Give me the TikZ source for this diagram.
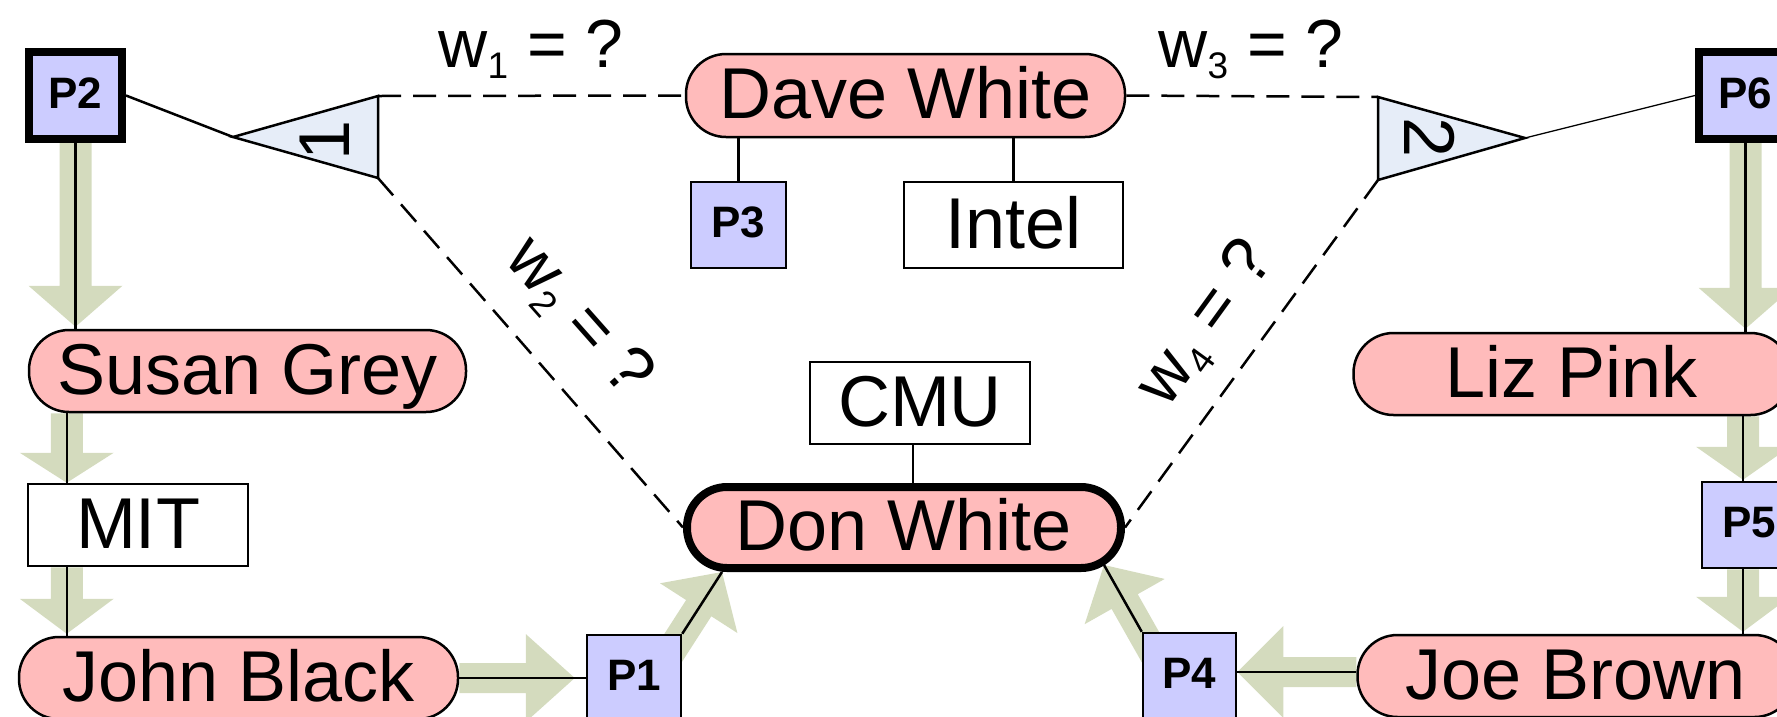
\documentclass[tikz,border=0pt]{standalone}
\usepackage{fontspec}
\setmainfont{Liberation Sans}
\usetikzlibrary{calc}

\definecolor{namefill}{RGB}{255,187,187}
\definecolor{paperfill}{RGB}{204,204,255}
\definecolor{trifill}{RGB}{230,237,248}
\definecolor{flowgreen}{RGB}{212,219,190}

\pgfdeclarelayer{under}
\pgfsetlayers{under,main}

\newcommand\namefont{\fontsize{72pt}{80pt}\selectfont}
\newcommand\tagfont{\fontsize{44pt}{50pt}\selectfont\bfseries}
\newcommand\wfont{\fontsize{68pt}{76pt}\selectfont}
\newcommand\wlab[1]{w\raisebox{-11pt}{\fontsize{37pt}{37pt}\selectfont #1} = ?}

% block arrow: start, tip, head length, head half width, shaft half width
\newcommand\fatarrow[5]{%
  \coordinate (fa-s) at (#1);
  \coordinate (fa-t) at (#2);
  \coordinate (fa-b) at ($(fa-t)!#3!(fa-s)$);
  \fill[flowgreen] ($(fa-s)!#5!90:(fa-t)$) -- ($(fa-b)!#5!90:(fa-t)$)
    -- ($(fa-b)!#4!90:(fa-t)$) -- (fa-t) -- ($(fa-b)!#4!-90:(fa-t)$)
    -- ($(fa-b)!#5!-90:(fa-t)$) -- ($(fa-s)!#5!-90:(fa-t)$) -- cycle;}

\begin{document}
\begin{tikzpicture}[x=1pt,y=-1pt,
  person/.style={draw, line width=2.5pt, fill=namefill, rounded corners=40pt,
    minimum width=437pt, minimum height=82pt, inner sep=0pt,
    text height=52pt, text depth=6pt, font=\namefont},
  org/.style={draw, line width=2.5pt, fill=white,
    minimum width=220pt, minimum height=82pt, inner sep=0pt,
    text height=52pt, text depth=6pt, font=\namefont},
  paper/.style={draw, line width=2.5pt, fill=paperfill,
    minimum width=94pt, minimum height=86pt, inner sep=0pt,
    text height=31pt, text depth=6pt, font=\tagfont},
  focus/.style={line width=8pt},
  conn/.style={line width=2.5pt},
  guess/.style={line width=2.5pt, dash pattern=on 23pt off 12pt},
  tri/.style={draw, line width=2.5pt, fill=trifill, line join=miter},
  wtext/.style={font=\wfont, inner sep=0pt},
  digit/.style={font=\namefont, inner sep=0pt}]

\useasboundingbox (0,0) rectangle (1777,716);
\clip (0,0) rectangle (1777,716);

% people
\node[person, minimum width=439pt, minimum height=83pt] (dave) at (905.5,95.5) {Dave White};
\node[person, focus, minimum width=434pt, minimum height=81pt] (don) at (904,527.5) {Don White};
\node[person] (susan) at (247.5,371) {Susan Grey};
\node[person, minimum width=439pt] (john) at (238.5,678) {John Black};
\node[person] (liz) at (1572,374) {Liz Pink};
\node[person] (joe) at (1576,676) {Joe Brown};

% organisations
\node[org, minimum width=219pt, minimum height=86pt] (intel) at (1013.5,225) {Intel};
\node[org] (cmu) at (920,403) {CMU};
\node[org] (mit) at (138,525) {MIT};

% papers
\node[paper, focus, minimum width=93pt, minimum height=87pt] (p2) at (75.5,95.5) {P2};
\node[paper, focus, minimum width=93pt, minimum height=87pt] (p6) at (1745.5,95.5) {P6};
\node[paper, minimum width=95pt] (p3) at (738.5,225) {P3};
\node[paper] (p1) at (634,678) {P1};
\node[paper, minimum width=93pt] (p4) at (1189.5,676) {P4};
\node[paper] (p5) at (1749,525) {P5};

% comparison triangles
\coordinate (t1a) at (233,137);
\coordinate (t1t) at (378,96);
\coordinate (t1b) at (378,178);
\draw[tri] (t1a) -- (t1t) -- (t1b) -- cycle;
\node[digit, rotate=90] (d1) at (325,140) {1};

\coordinate (t2a) at (1525,138);
\coordinate (t2t) at (1378,97);
\coordinate (t2b) at (1378,180);
\draw[tri] (t2a) -- (t2t) -- (t2b) -- cycle;
\node[digit, rotate=-90] (d2) at (1430,138) {2};

% helper points on node borders
\coordinate (mitx) at ($(mit.north west)+(40,0)$);
\coordinate (rx) at ($(p5.north)+(-6,0)$);
\coordinate (cmux) at ($(cmu.south)+(-7,0)$);
\coordinate (donsw) at ($(don.south west)+(39,0)$);
\coordinate (donse) at ($(don.south east)+(-21,-7)$);
\coordinate (joeln) at ($(joe.west)+(0,-4)$);

% citation flow
\begin{pgfonlayer}{under}
  \clip (0,0) rectangle (1777,716);
  \fatarrow{p2.south}{$(p2.south |- susan.north)+(0,-2)$}{41pt}{47pt}{16pt}
  \fatarrow{mitx |- susan.south}{mitx}{30pt}{47pt}{16pt}
  \fatarrow{mitx |- mit.south}{$(mitx |- john.north)+(0,-2)$}{35pt}{47pt}{16pt}
  \fatarrow{john.east}{$(john.east -| p1.west)+(-11,0)$}{49pt}{44pt}{15pt}
  \fatarrow{$(p1.north east)!-30pt!(donsw)$}{donsw}{43pt}{46pt}{15pt}
  \fatarrow{p6.south}{$(p6.south |- liz.north)+(0,-3)$}{41pt}{47pt}{16pt}
  \fatarrow{rx |- liz.south}{$(rx |- p5.north)+(0,-1)$}{33pt}{47pt}{16pt}
  \fatarrow{rx |- p5.south}{$(rx |- joe.north)+(0,-2)$}{35pt}{47pt}{16pt}
  \fatarrow{joeln}{joeln -| p4.east}{46pt}{46pt}{15pt}
  \fatarrow{$(p4.north west)!-30pt!(donse)$}{donse}{42pt}{46pt}{15pt}
\end{pgfonlayer}

% solid links
\draw[conn] (p2.east) -- (t1a);
\draw[line width=1.3pt] (t2a) -- (p6.west);
\draw[conn] (p3.north) -- (p3.north |- dave.south);
\draw[conn] (intel.north) -- (intel.north |- dave.south);
\draw[conn] (cmux) -- (cmux |- don.north);
\draw[conn] (p2.south) -- (p2.south |- susan.north);
\draw[conn] (mitx |- susan.south) -- (mitx);
\draw[conn] (mitx |- mit.south) -- (mitx |- john.north);
\draw[conn] (john.east) -- (john.east -| p1.west);
\draw[conn] (p1.north east) -- (donsw);
\draw[conn] (p6.south) -- (p6.south |- liz.north);
\draw[conn] (rx |- liz.south) -- (rx |- p5.north);
\draw[conn] (rx |- p5.south) -- (rx |- joe.north);
\draw[conn] (joeln) -- (joeln -| p4.east);
\draw[conn] (p4.north west) -- (donse);

% unknown weights
\draw[guess] (t1t) -- (dave.west);
\draw[guess] (dave.east) -- (t2t);
\draw[guess] (t1b) -- (don.west);
\draw[guess] (t2b) -- (don.east);

\node[wtext, anchor=base] (w1) at (531,67) {\wlab{1}};
\node[wtext, anchor=base] (w3) at (1251,67) {\wlab{3}};
\node[wtext, rotate=-48.5] (w2) at (578,318) {\wlab{2}};
\node[wtext, rotate=54] (w4) at (1207,324) {\wlab{4}};

\end{tikzpicture}
\end{document}
